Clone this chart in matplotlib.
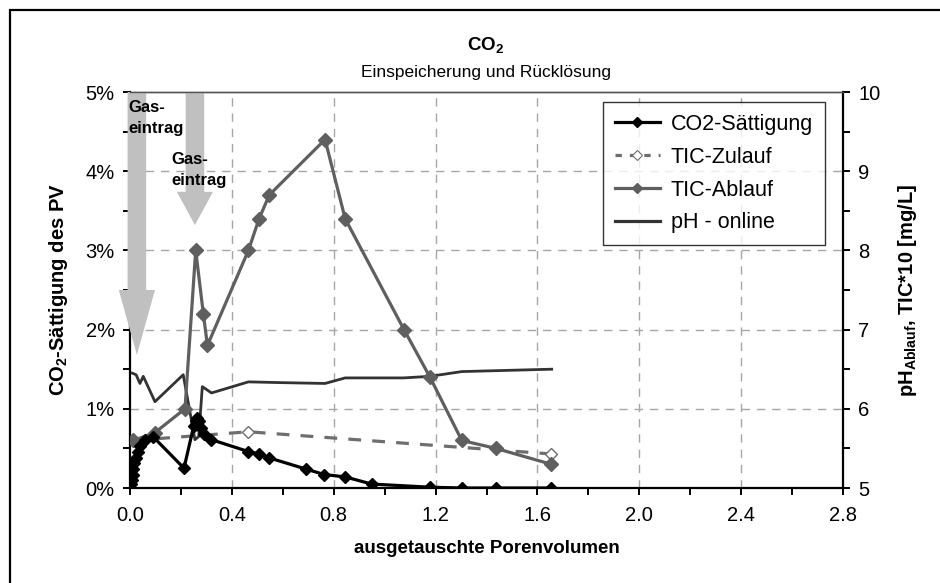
import matplotlib
matplotlib.use("Agg")
import matplotlib.pyplot as plt
import matplotlib.patches as mpatches
from matplotlib.lines import Line2D
from matplotlib.ticker import MultipleLocator, FuncFormatter

plt.rcParams['font.family'] = ['Liberation Sans', 'DejaVu Sans']
plt.rcParams['mathtext.fontset'] = 'custom'
plt.rcParams['mathtext.rm'] = 'Liberation Sans'
plt.rcParams['mathtext.bf'] = 'Liberation Sans:bold'
plt.rcParams['mathtext.it'] = 'Liberation Sans:italic'

# --- data ---
# CO2 saturation of the pore volume [%] (left axis)
co2_x = [0.0, 0.004, 0.007, 0.01, 0.013, 0.017, 0.022, 0.03, 0.04, 0.06, 0.09,
         0.212, 0.25, 0.258, 0.265, 0.272, 0.28, 0.29, 0.32, 0.465, 0.507, 0.547,
         0.69, 0.763, 0.845, 0.949, 1.178, 1.303, 1.437, 1.654]
co2_y = [0.0, 0.05, 0.1, 0.17, 0.24, 0.31, 0.38, 0.46, 0.53, 0.6, 0.65,
         0.25, 0.78, 0.85, 0.88, 0.84, 0.76, 0.68, 0.61, 0.46, 0.43, 0.38,
         0.24, 0.17, 0.14, 0.05, 0.01, 0.0, 0.0, 0.0]

# TIC inflow (right axis, TIC*10 mg/L)
tic_zu_x = [0.013, 0.465, 1.654]
tic_zu_y = [5.6, 5.71, 5.43]

# TIC outflow (right axis)
tic_ab_x = [0.013, 0.098, 0.216, 0.258, 0.288, 0.304, 0.465, 0.507, 0.547,
            0.766, 0.845, 1.076, 1.178, 1.303, 1.437, 1.654]
tic_ab_y = [5.6, 5.7, 6.0, 8.0, 7.2, 6.8, 8.0, 8.4, 8.7,
            9.4, 8.4, 7.0, 6.4, 5.6, 5.5, 5.3]

# pH online (right axis)
ph_x = [0.009, 0.024, 0.039, 0.052, 0.065, 0.098, 0.209, 0.255, 0.27, 0.284,
        0.32, 0.465, 0.6, 0.766, 0.845, 1.074, 1.178, 1.303, 1.656]
ph_y = [6.45, 6.43, 6.32, 6.41, 6.32, 6.09, 6.43, 5.61, 5.65, 6.28,
        6.2, 6.34, 6.33, 6.32, 6.39, 6.39, 6.41, 6.47, 6.50]

# gas injection arrows: x position, tip height and head length [%]
arrow_x = [0.027, 0.255]
arrow_tip = [1.68, 3.32]
arrow_head = [0.82, 0.42]
arrow_label_pos = [(-0.008, 4.9), (0.164, 4.24)]

fig = plt.figure(figsize=(9.4, 5.83), dpi=100)
ax = fig.add_axes([130 / 940, 1 - 488 / 583, 713 / 940, 396 / 583])
ax2 = ax.twinx()

ax.set_xlim(0, 2.8)
ax.set_ylim(0, 5)
ax2.set_ylim(5, 10)

# grid
for g in [0.4, 0.8, 1.2, 1.6, 2.0, 2.4]:
    ax.axvline(g, color='#a6a6a6', lw=1, ls=(0, (6, 5)), zorder=1)
for g in [1, 2, 3, 4]:
    ax.axhline(g, color='#a6a6a6', lw=1, ls=(0, (6, 5)), zorder=1)

# arrows
for xa, tip, hl in zip(arrow_x, arrow_tip, arrow_head):
    arr = mpatches.FancyArrow(xa, 5.0, 0, tip - 5.0, width=0.073, head_width=0.142,
                              head_length=hl, length_includes_head=True,
                              color='#c0c0c0', lw=0, zorder=3, clip_on=False)
    ax.add_patch(arr)
for (tx, ty) in arrow_label_pos:
    ax.text(tx, ty, 'Gas-\neintrag', fontsize=12, fontweight='bold', ha='left', va='top',
            linespacing=1.5, zorder=6)

# lines
ax2.plot(tic_zu_x, tic_zu_y, color='#6e6e6e', lw=2.3, ls=(0, (4, 3.5)), marker='D',
         ms=6.5, mfc='white', mec='#6e6e6e', mew=1, zorder=4)
ax2.plot(ph_x, ph_y, color='#333333', lw=2.0, zorder=4)
ax2.plot(tic_ab_x, tic_ab_y, color='#5f5f5f', lw=2.3, marker='D', ms=6.8, mec='#5f5f5f',
         mfc='#5f5f5f', zorder=5)
ax2.plot(co2_x, co2_y, color='black', lw=2.3, marker='D', ms=6.5, zorder=6,
         transform=ax.transData)

# axes styling
for a in (ax, ax2):
    for s in ['left', 'right', 'bottom']:
        a.spines[s].set_linewidth(1.6)
    a.spines['top'].set_color('#555555')
    a.spines['top'].set_linewidth(1)
ax.spines['right'].set_visible(False)
ax2.spines['left'].set_visible(False)
ax2.spines['bottom'].set_visible(False)

ax.xaxis.set_major_locator(MultipleLocator(0.4))
ax.xaxis.set_minor_locator(MultipleLocator(0.2))
ax.yaxis.set_major_locator(MultipleLocator(1))
ax.yaxis.set_minor_locator(MultipleLocator(0.5))
ax2.yaxis.set_major_locator(MultipleLocator(1))
ax2.yaxis.set_minor_locator(MultipleLocator(0.5))
ax.xaxis.set_major_formatter(FuncFormatter(lambda v, p: f'{v:.1f}'))
ax.yaxis.set_major_formatter(FuncFormatter(lambda v, p: f'{v:.0f}%'))
ax2.yaxis.set_major_formatter(FuncFormatter(lambda v, p: f'{v:.0f}'))

ax.tick_params(axis='x', which='major', direction='out', length=5, width=1.4, labelsize=14.5, pad=8)
ax.tick_params(axis='x', which='minor', direction='out', length=5, width=1.4)
ax.tick_params(axis='y', which='major', direction='out', length=5, width=1.4, labelsize=14.5, pad=6)
ax.tick_params(axis='y', which='minor', direction='out', length=5, width=1.4)
ax2.tick_params(axis='y', which='major', direction='out', length=5, width=1.4, labelsize=14.5, pad=6)
ax2.tick_params(axis='y', which='minor', direction='out', length=5, width=1.4)

ax.set_xlabel('ausgetauschte Porenvolumen', fontsize=13.5, fontweight='bold', labelpad=11)
ax.set_ylabel(r'CO$_{\mathbf{2}}$-Sättigung des PV', fontsize=14.5, fontweight='bold', labelpad=11)
ax2.set_ylabel(r'pH$_{\mathbf{Ablauf}}$, TIC*10 [mg/L]', fontsize=14.5, fontweight='bold',
               labelpad=11)

fig.text(486 / 940, 1 - 45 / 583, r'CO$_{\mathbf{2}}$', fontsize=13.5, fontweight='bold',
         ha='center', va='center')
fig.text(486 / 940, 1 - 72 / 583, 'Einspeicherung und Rücklösung', fontsize=12.5,
         ha='center', va='center')

# legend
handles = [
    Line2D([], [], color='black', lw=2.3, marker='D', ms=5.5),
    Line2D([], [], color='#6e6e6e', lw=2.3, ls=(0, (2, 2.5)), marker='D', ms=5.5,
           mfc='white', mec='#6e6e6e', mew=0.8),
    Line2D([], [], color='#5f5f5f', lw=2.3, marker='D', ms=5.5),
    Line2D([], [], color='#333333', lw=2.3),
]
labels = ['CO2-Sättigung', 'TIC-Zulauf', 'TIC-Ablauf', 'pH - online']
leg = ax2.legend(handles, labels, loc='upper left', bbox_to_anchor=(603 / 940, 1 - 102 / 583),
                 bbox_transform=fig.transFigure, fontsize=15.5, frameon=True, fancybox=False,
                 edgecolor='black', handlelength=2.1, borderpad=0.55, labelspacing=0.55,
                 handletextpad=0.5, borderaxespad=0)
leg.get_frame().set_linewidth(1.0)
leg.set_zorder(10)

# outer frame
fig.patches.append(mpatches.Rectangle((10 / 940, -0.2), 1.5, 1.2 - 10 / 583, transform=fig.transFigure,
                                      fill=False, edgecolor='black', lw=1.6))

fig.savefig('out.png', dpi=100)
